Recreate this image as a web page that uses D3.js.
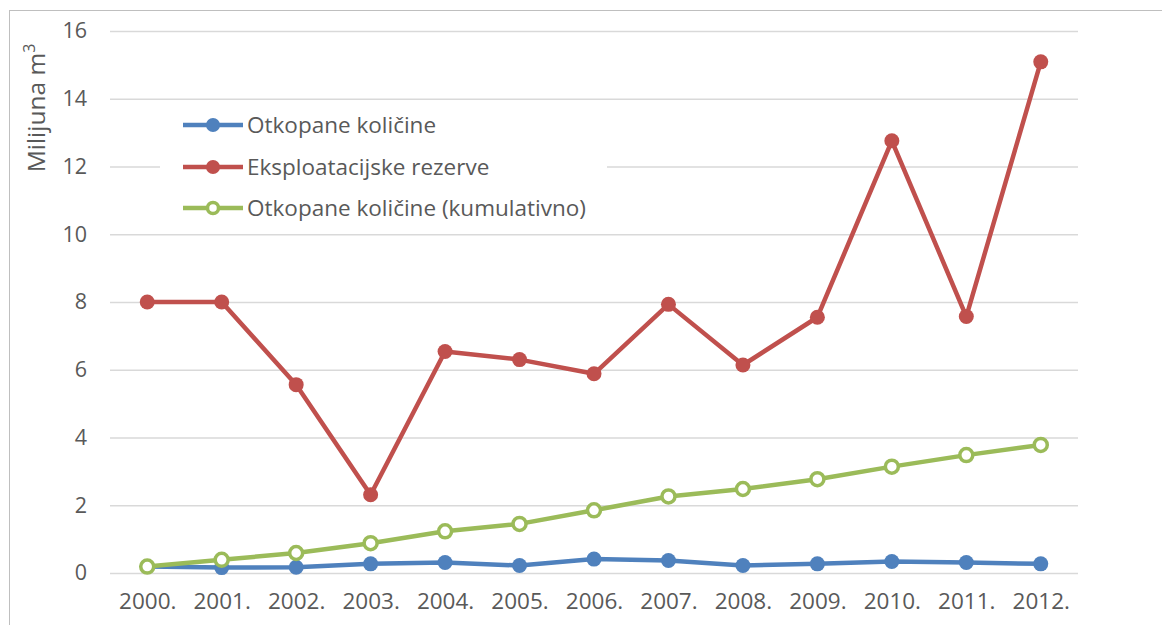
<!DOCTYPE html>
<html>
<head>
<meta charset="utf-8">
<script src="https://cdn.jsdelivr.net/npm/d3@7"></script>
<style>
  body { margin:0; background:#fff; }
  text { font-family: "Open Sans", sans-serif; fill:#595959; }
</style>
</head>
<body>
<div id="chart"></div>
<script>
const years = ["2000.","2001.","2002.","2003.","2004.","2005.","2006.","2007.","2008.","2009.","2010.","2011.","2012."]
const otkopane = [0.19,0.16,0.17,0.27,0.31,0.22,0.41,0.37,0.22,0.27,0.34,0.31,0.27]
const rezerve = [8.0,8.0,5.56,2.31,6.54,6.30,5.88,7.93,6.14,7.55,12.76,7.57,15.09]
const kumulativno = [0.19,0.39,0.59,0.88,1.23,1.45,1.85,2.26,2.48,2.77,3.14,3.48,3.78]
const yTicks = [0,2,4,6,8,10,12,14,16]
const seriesNames = ["Otkopane količine","Eksploatacijske rezerve","Otkopane količine (kumulativno)"]

function render(){
  let width = 1162, height = 625,
      margin = { top:31, left:110, right:84, bottom:52 },
      innerWidth = width - margin.left - margin.right,
      innerHeight = height - margin.top - margin.bottom

  const svg = d3.select("#chart").append("svg").attr("width",width).attr("height",height)

  // outer frame
  svg.append("rect").attr("x",9.5).attr("y",10.5).attr("width",1200).attr("height",700)
    .attr("fill","none").attr("stroke","#bfbfbf").attr("stroke-width",1)

  const g = svg.append("g").attr("transform",`translate(${margin.left},${margin.top})`)

  const xScale = d3.scalePoint().domain(years).range([0,innerWidth]).padding(0.5)
  const yScale = d3.scaleLinear().domain([0,16]).range([innerHeight,0])

  // gridlines
  g.append("g").call(d3.axisLeft(yScale).tickValues(yTicks).tickSize(-innerWidth).tickFormat(""))
    .call(a => a.select(".domain").remove())
    .selectAll("line").attr("stroke","#d9d9d9").attr("stroke-width",1.3)

  // y tick labels
  g.append("g").call(d3.axisLeft(yScale).tickValues(yTicks).tickSize(0).tickPadding(23))
    .call(a => a.select(".domain").remove())
    .selectAll("text").style("font-size","21.5px").attr("fill","#595959")

  // x tick labels
  g.append("g").attr("transform",`translate(0,${innerHeight})`)
    .call(d3.axisBottom(xScale).tickSize(0).tickPadding(20))
    .call(a => a.select(".domain").remove())
    .selectAll("text").style("font-size","22.5px").attr("fill","#595959")

  // y title
  const t = svg.append("text").attr("transform","translate(45,108) rotate(-90)")
    .attr("text-anchor","middle").style("font-size","24.5px")
  t.append("tspan").text("Milijuna m")
  t.append("tspan").text("3").attr("dy","-10").style("font-size","16px")

  // legend background
  const legend = svg.append("g")
  legend.append("rect").attr("x",160).attr("y",108).attr("width",447).attr("height",118).attr("fill","#fff")

  const series = [
    { name: seriesNames[0], values: otkopane, color:"#4f81bd", hollow:false },
    { name: seriesNames[1], values: rezerve, color:"#c0504d", hollow:false },
    { name: seriesNames[2], values: kumulativno, color:"#9bbb59", hollow:true }
  ]

  const line = d3.line().x((d,i) => xScale(years[i])).y(d => yScale(d))

  series.forEach(s => {
    const sg = g.append("g")
    sg.append("path").attr("d",line(s.values)).attr("fill","none")
      .attr("stroke",s.color).attr("stroke-width",4.5).attr("stroke-linejoin","round")
    sg.selectAll("circle").data(s.values).enter().append("circle")
      .attr("cx",(d,i) => xScale(years[i])).attr("cy",d => yScale(d))
      .attr("r", s.hollow ? 6.5 : 7.5)
      .attr("fill", s.hollow ? "#fff" : s.color)
      .attr("stroke", s.hollow ? s.color : "none").attr("stroke-width",3.5)
  })

  // legend items
  const legendY = [125,167,208]
  series.forEach((s,i) => {
    const lg = legend.append("g").attr("transform",`translate(0,${legendY[i]})`)
    lg.append("line").attr("x1",183).attr("x2",243).attr("stroke",s.color).attr("stroke-width",4.5)
    lg.append("circle").attr("cx",213).attr("r", s.hollow ? 5.5 : 7)
      .attr("fill", s.hollow ? "#fff" : s.color)
      .attr("stroke", s.hollow ? s.color : "none").attr("stroke-width",3.5)
    lg.append("text").attr("x",247).attr("dy","0.35em").style("font-size","22.5px").text(s.name)
  })
}

render()
</script>
</body>
</html>
